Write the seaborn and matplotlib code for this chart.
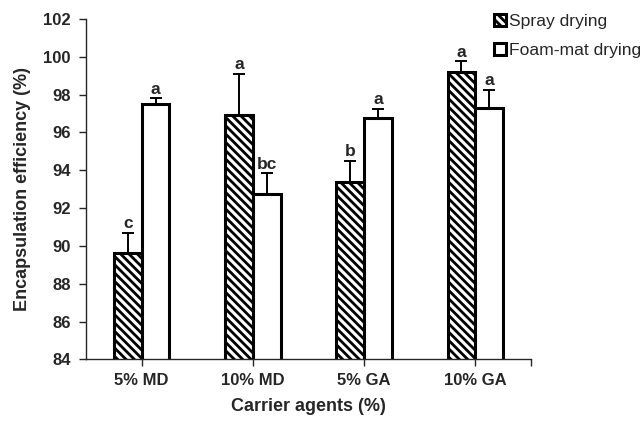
import numpy as np
import pandas as pd
import matplotlib
matplotlib.use('Agg')
import matplotlib.pyplot as plt
import seaborn as sns
from matplotlib.patches import Patch

# data
carriers = ['5% MD', '10% MD', '5% GA', '10% GA']
methods = ['Spray drying', 'Foam-mat drying']
spray_mean = [89.6, 96.9, 93.4, 99.2]
spray_err = [1.1, 2.2, 1.1, 0.55]
spray_letters = ['c', 'a', 'b', 'a']
foam_mean = [97.5, 92.75, 96.75, 97.3]
foam_err = [0.3, 1.1, 0.5, 0.95]
foam_letters = ['a', 'bc', 'a', 'a']

df = pd.DataFrame({
    'carrier': carriers * 2,
    'method': [methods[0]] * 4 + [methods[1]] * 4,
    'value': spray_mean + foam_mean,
})

sns.set_style('ticks')
plt.rcParams['font.family'] = ['Liberation Sans', 'DejaVu Sans']
plt.rcParams['hatch.linewidth'] = 2.0
plt.rcParams['hatch.color'] = 'black'

fig = plt.figure(figsize=(6.44, 4.21), dpi=100)
ax = fig.add_axes([0.1335, 0.1465, 0.691, 0.8085])

sns.barplot(data=df, x='carrier', y='value', hue='method', order=carriers,
            hue_order=methods, palette=['white', 'white'], width=0.5,
            errorbar=None, edgecolor='black', linewidth=2.2, legend=False, ax=ax)

hatches = ['\\\\\\\\', '']
errs = [spray_err, foam_err]
letters = [spray_letters, foam_letters]
for container, hatch, err, labs in zip(ax.containers, hatches, errs, letters):
    xs, ys = [], []
    for bar in container:
        bar.set_hatch(hatch)
        xs.append(bar.get_x() + bar.get_width() / 2)
        ys.append(bar.get_height())
    ax.errorbar(xs, ys, yerr=[np.zeros(len(err)), err], fmt='none',
                ecolor='black', elinewidth=1.4, capsize=4, capthick=1.4, zorder=1)
    for x, y, e, lab in zip(xs, ys, err, labs):
        ax.annotate(lab, (x, y + e), xytext=(0, 1), textcoords='offset points',
                    ha='center', va='bottom', fontsize=12.5, fontweight='bold')

ax.set_ylim(84, 102)
ax.set_yticks(np.arange(84, 103, 2))
ax.set_xlim(-0.5, 3.5)
ax.set_xticks(range(4))
ax.set_xticks([3.5], minor=True)
ax.tick_params(axis='x', which='both', length=5, width=1, pad=5)
ax.tick_params(axis='y', length=5, width=1, pad=6)
for lab in ax.get_xticklabels() + ax.get_yticklabels():
    lab.set_fontsize(12)
    lab.set_fontweight('bold')
sns.despine(ax=ax)
for s in ['left', 'bottom']:
    ax.spines[s].set_linewidth(1)

ax.set_xlabel('Carrier agents (%)', fontsize=13, fontweight='bold', labelpad=7)
ax.set_ylabel('Encapsulation efficiency (%)', fontsize=13, fontweight='bold', labelpad=9)

handles = [Patch(facecolor='white', edgecolor='black', hatch='\\\\\\\\', linewidth=2.2),
           Patch(facecolor='white', edgecolor='black', linewidth=2.2)]
fig.legend(handles, methods, loc='upper left', bbox_to_anchor=(0.742, 1.005),
           frameon=False, fontsize=12.6, handlelength=0.7, handleheight=0.7,
           handletextpad=0.2, labelspacing=0.8)

fig.savefig('out.png', dpi=100)
